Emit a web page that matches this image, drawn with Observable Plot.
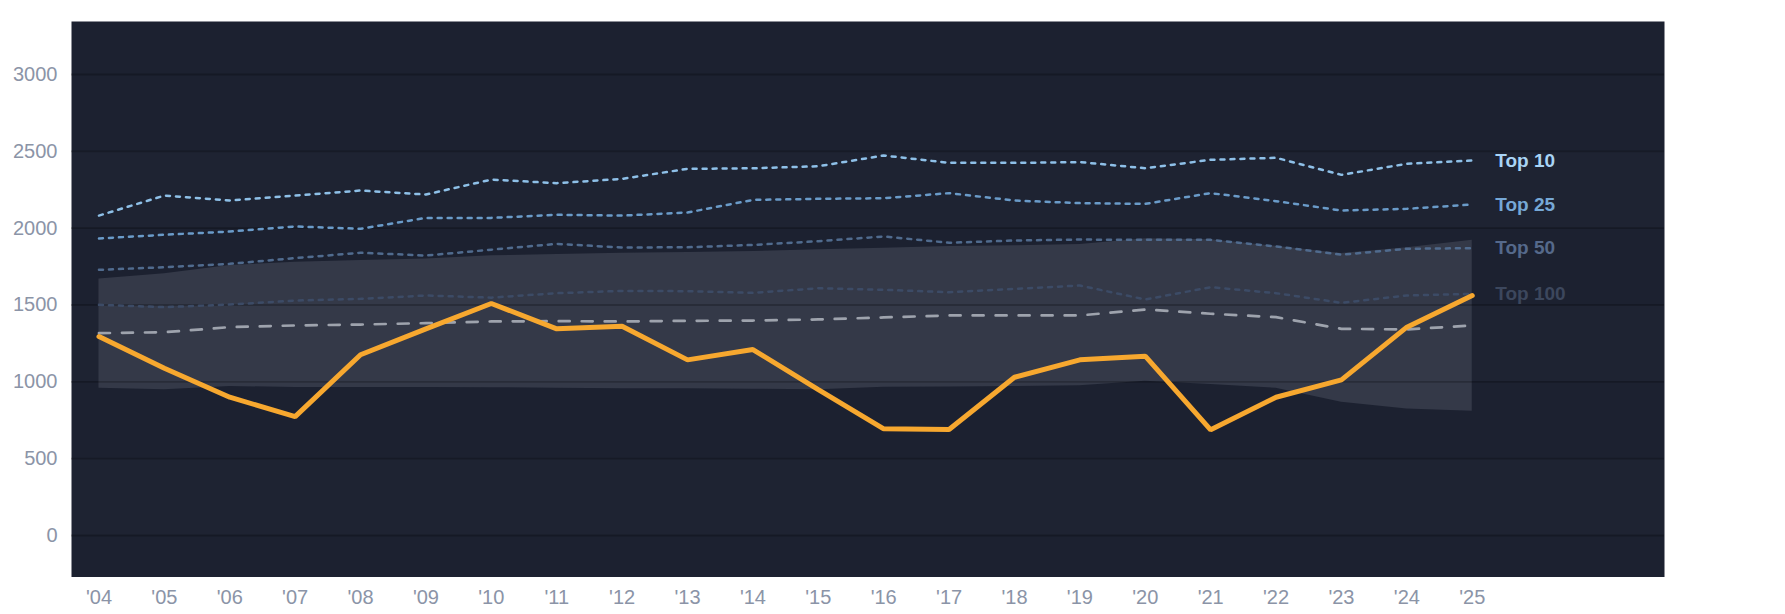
<!DOCTYPE html>
<html>
<head>
<meta charset="utf-8">
<script src="https://cdn.jsdelivr.net/npm/d3@7"></script>
<script src="https://cdn.jsdelivr.net/npm/@observablehq/plot@0.6"></script>
<style>
  html, body { margin: 0; padding: 0; background: #ffffff; }
  #chart svg { display: block; }
</style>
</head>
<body>
<div id="chart"></div>
<script>
const years   = [2004,2005,2006,2007,2008,2009,2010,2011,2012,2013,2014,2015,2016,2017,2018,2019,2020,2021,2022,2023,2024,2025];
const player  = [1295,1089,900,774,1176,1345,1510,1345,1362,1143,1210,950,694,690,1030,1143,1167,688,900,1013,1356,1562];
const top10   = [2082,2212,2180,2212,2245,2219,2316,2293,2321,2386,2390,2403,2473,2425,2425,2430,2390,2445,2458,2347,2419,2440];
const top25   = [1933,1957,1978,2011,1996,2067,2067,2087,2082,2102,2184,2191,2195,2228,2180,2163,2158,2228,2176,2115,2126,2154];
const top50   = [1729,1746,1768,1805,1840,1822,1860,1898,1874,1876,1891,1915,1946,1905,1920,1926,1924,1924,1881,1827,1866,1870];
const top100  = [1501,1486,1503,1529,1540,1562,1548,1577,1592,1590,1579,1609,1599,1583,1605,1627,1536,1616,1577,1514,1562,1573];
const median  = [1317,1323,1356,1367,1373,1382,1393,1395,1393,1397,1399,1406,1419,1432,1432,1432,1471,1443,1421,1345,1341,1367];
const bandHigh = [1670,1703,1757,1779,1790,1800,1820,1829,1837,1841,1848,1859,1870,1881,1885,1894,1931,1924,1882,1835,1872,1922];
const bandLow  = [959,948,970,963,963,964,962,958,955,955,952,948,965,967,970,975,1004,983,958,868,824,809];
const yTicks = [0,500,1000,1500,2000,2500,3000];
const tierNames = ["Top 10","Top 25","Top 50","Top 100"];
const tierValues = [top10, top25, top50, top100];
const tierLineColors = ["#8ec0e8","#6a9bc9","#506b8e","#3c4b66"];
const tierLabelColors = ["#a9d4f5","#76a8d6","#55698b","#3c475d"];
const stripes = [[0,500],[1000,1500],[2000,2500]];

const rows = years.map((year, i) => ({year, player: player[i], median: median[i], low: bandLow[i], high: bandHigh[i]}));
const tierRows = tierNames.flatMap((name, k) => years.map((year, i) => ({name, year, value: tierValues[k][i]})));
const lastTier = tierNames.map((name, k) => ({name, year: years[years.length-1], value: tierValues[k][years.length-1], color: tierLabelColors[k]}));

const tierMarks = tierNames.map((name, k) => Plot.line(tierRows.filter(d => d.name === name), {
  x: "year", y: "value", stroke: tierLineColors[k], strokeWidth: 2.5, strokeDasharray: "4,6"
}));

const chart = Plot.plot({
  width: 1785,
  height: 614,
  marginTop: 21,
  marginBottom: 37.5,
  marginLeft: 71,
  marginRight: 121,
  style: {background: "transparent", fontFamily: "'Liberation Sans', Arial, sans-serif", fontSize: "20px", color: "#8b94a7"},
  x: {domain: [2003.58, 2027.94], ticks: years, tickFormat: d => "'" + String(d).slice(2), tickSize: 0, tickPadding: 13, label: null},
  y: {domain: [-270, 3345], ticks: yTicks, tickFormat: d => String(d), tickSize: 0, tickPadding: 14, label: null},
  marks: [
    Plot.frame({fill: "#1c2130", stroke: null}),
    Plot.rect(stripes, {y1: d => d[0], y2: d => d[1], fill: "#ffffff", fillOpacity: 0.012}),
    Plot.areaY(rows, {x: "year", y1: "low", y2: "high", fill: "#343948"}),
    Plot.ruleY(yTicks, {stroke: "#000000", strokeOpacity: 0.22, strokeWidth: 1.8}),
    ...tierMarks,
    Plot.line(rows, {x: "year", y: "median", stroke: "#9ea3ad", strokeWidth: 2.7, strokeDasharray: "11,12"}),
    Plot.line(rows, {x: "year", y: "player", stroke: "#f7a82f", strokeWidth: 5, strokeLinejoin: "miter"}),
    Plot.text(lastTier, {x: "year", y: "value", text: "name", fill: "color", dx: 23, textAnchor: "start", fontWeight: "bold", fontSize: 19}),
    Plot.axisX({ticks: years, tickFormat: d => "'" + String(d).slice(2), tickSize: 0, tickPadding: 13, fill: "#8b94a7", fontSize: 20}),
    Plot.axisY({ticks: yTicks, tickFormat: d => String(d), tickSize: 0, tickPadding: 14, fill: "#8b94a7", fontSize: 20})
  ]
});
document.getElementById("chart").appendChild(chart);
</script>
</body>
</html>
